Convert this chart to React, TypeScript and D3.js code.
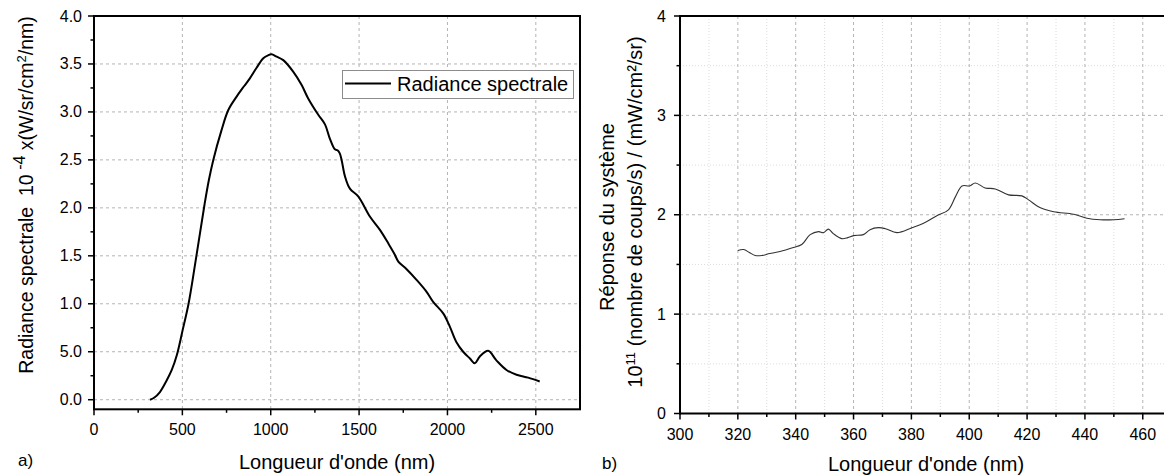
import React from "react";
import * as d3 from "d3";

// ---- Chart a) : spectral radiance ----
const leftWavelengths = [317, 340, 373, 411, 440, 468, 501, 535, 571, 600, 625, 650, 675, 720, 760, 807, 850, 882, 920, 958, 985, 1005, 1030, 1071, 1127, 1175, 1212, 1269, 1307, 1335, 1363, 1378, 1390, 1401, 1420, 1448, 1495, 1561, 1618, 1665, 1700, 1722, 1769, 1825, 1882, 1919, 1976, 2014, 2051, 2089, 2127, 2155, 2183, 2230, 2277, 2334, 2391, 2457, 2522];
const leftRadiance = [0.0, 0.02, 0.08, 0.2, 0.31, 0.46, 0.72, 1.0, 1.4, 1.74, 2.03, 2.29, 2.5, 2.8, 3.02, 3.16, 3.27, 3.35, 3.46, 3.56, 3.59, 3.6, 3.58, 3.54, 3.42, 3.28, 3.14, 2.97, 2.87, 2.72, 2.61, 2.6, 2.57, 2.5, 2.33, 2.2, 2.12, 1.91, 1.77, 1.63, 1.52, 1.44, 1.36, 1.25, 1.125, 1.02, 0.9, 0.76, 0.6, 0.5, 0.43, 0.38, 0.45, 0.51, 0.41, 0.31, 0.26, 0.23, 0.19];
const leftXTicks = [0, 500, 1000, 1500, 2000, 2500];
const leftXMinor = [250, 750, 1250, 1750, 2250];
const leftYTicks = [0, 0.5, 1.0, 1.5, 2.0, 2.5, 3.0, 3.5, 4.0];
const leftYTickLabels = ["0.0", "5.0", "1.0", "1.5", "2.0", "2.5", "3.0", "3.5", "4.0"];
const leftYMinor = [0.25, 0.75, 1.25, 1.75, 2.25, 2.75, 3.25, 3.75];

// ---- Chart b) : system response ----
const rightWavelengths = [320, 322, 324, 326, 328.3, 331, 334.6, 339.2, 342.1, 345, 347.9, 349.6, 351.3, 353, 355.9, 358, 360, 363.4, 365.7, 368.6, 371, 375, 380.2, 384.2, 388.8, 392.8, 395.2, 397.5, 400.1, 402.1, 405.5, 409, 413.6, 418.2, 420.5, 424.6, 429.2, 436.1, 440.7, 445.3, 449.9, 453.7];
const rightResponse = [1.64, 1.65, 1.62, 1.59, 1.59, 1.61, 1.63, 1.67, 1.7, 1.8, 1.83, 1.82, 1.855, 1.81, 1.76, 1.77, 1.79, 1.8, 1.85, 1.87, 1.86, 1.82, 1.87, 1.915, 1.99, 2.05, 2.18, 2.29, 2.29, 2.32, 2.27, 2.26, 2.2, 2.19, 2.15, 2.07, 2.03, 2.005, 1.965, 1.95, 1.95, 1.96];
const rightXTicks = [300, 320, 340, 360, 380, 400, 420, 440, 460];
const rightXMinor = [310, 330, 350, 370, 390, 410, 430, 450];
const rightYTicks = [0, 1, 2, 3, 4];
const rightYMinor = [0.5, 1.5, 2.5, 3.5];

const FONT = "'Liberation Sans', Arial, sans-serif";

export default function App() {
  const xL = d3.scaleLinear().domain([0, 2750]).range([94, 580]);
  const yL = d3.scaleLinear().domain([-0.1, 4.0]).range([409.3, 16]);
  const xR = d3.scaleLinear().domain([300, 470]).range([680, 1171.7]);
  const yR = d3.scaleLinear().domain([0, 4]).range([413.5, 16]);

  const leftLine = d3
    .line<number>()
    .x((d, i) => xL(leftWavelengths[i]))
    .y((d) => yL(d))
    .curve(d3.curveCatmullRom.alpha(0.5))(leftRadiance) as string;

  const rightLine = d3
    .line<number>()
    .x((d, i) => xR(rightWavelengths[i]))
    .y((d) => yR(d))
    .curve(d3.curveCatmullRom.alpha(0.5))(rightResponse) as string;

  const L = { x0: xL.range()[0], x1: xL.range()[1], y0: yL.range()[0], y1: yL.range()[1] };
  const R = { x0: 680, x1: 1164, y0: yR.range()[0], y1: yR.range()[1] };

  return (
    <svg
      width={1164}
      height={475}
      style={{ position: "absolute", left: 0, top: 0, background: "#fff" }}
      fontFamily={FONT}
    >
      <rect x={0} y={0} width={1164} height={475} fill="#fff" />

      {/* ===== Left chart ===== */}
      <g>
        {leftXTicks.filter((t) => t > 0).map((t) => (
          <line key={"lgx" + t} x1={xL(t)} x2={xL(t)} y1={L.y1} y2={L.y0} stroke="#b4b4b4" strokeWidth={1} strokeDasharray="3,3" />
        ))}
        {leftYTicks.filter((t) => t < 4).map((t) => (
          <line key={"lgy" + t} x1={L.x0} x2={L.x1} y1={yL(t)} y2={yL(t)} stroke="#b4b4b4" strokeWidth={1} strokeDasharray="3,3" />
        ))}
        <path d={leftLine} fill="none" stroke="#000" strokeWidth={2} strokeLinejoin="round" />
        <rect x={L.x0} y={L.y1} width={L.x1 - L.x0} height={L.y0 - L.y1} fill="none" stroke="#000" strokeWidth={2} />
        {leftXTicks.map((t) => (
          <line key={"ltx" + t} x1={xL(t)} x2={xL(t)} y1={L.y0} y2={L.y0 + 6} stroke="#000" strokeWidth={1.5} />
        ))}
        {leftXMinor.map((t) => (
          <line key={"lmx" + t} x1={xL(t)} x2={xL(t)} y1={L.y0} y2={L.y0 + 3.5} stroke="#000" strokeWidth={1.5} />
        ))}
        {leftXTicks.map((t) => (
          <text key={"llx" + t} x={xL(t)} y={435} textAnchor="middle" fontSize={16} fill="#000">
            {t}
          </text>
        ))}
        {leftYTicks.map((t) => (
          <line key={"lty" + t} x1={L.x0 - 6} x2={L.x0} y1={yL(t)} y2={yL(t)} stroke="#000" strokeWidth={1.5} />
        ))}
        {leftYMinor.map((t) => (
          <line key={"lmy" + t} x1={L.x0 - 3.5} x2={L.x0} y1={yL(t)} y2={yL(t)} stroke="#000" strokeWidth={1.5} />
        ))}
        {leftYTicks.map((t, i) => (
          <text key={"lly" + t} x={82} y={yL(t) + 5.5} textAnchor="end" fontSize={16} fill="#000">
            {leftYTickLabels[i]}
          </text>
        ))}
        {/* legend */}
        <rect x={342.5} y={70.5} width={231} height={28} fill="#fff" stroke="#8c8c8c" strokeWidth={1} />
        <line x1={345} x2={391} y1={83.5} y2={83.5} stroke="#000" strokeWidth={2} />
        <text x={397} y={91} fontSize={20} fill="#000">Radiance spectrale</text>
        {/* titles */}
        <text x={337} y={469} textAnchor="middle" fontSize={20} fill="#000">Longueur d'onde (nm)</text>
        <text
          transform="translate(33,195) rotate(-90)"
          textAnchor="middle"
          fontSize={19.5}
          fill="#000"
          style={{ whiteSpace: "pre" }}
        >
          {"Radiance spectrale  10"}
          <tspan dy={-8} fontSize={16}>{" -4"}</tspan>
          <tspan dy={8}>{" x(W/sr/cm"}</tspan>
          <tspan dy={-7} fontSize={13}>2</tspan>
          <tspan dy={7}>/nm)</tspan>
        </text>
        <text x={18} y={466} fontSize={17} fill="#000">a)</text>
      </g>

      {/* ===== Right chart ===== */}
      <g>
        {rightXMinor.map((t) => (
          <line key={"rmgx" + t} x1={xR(t)} x2={xR(t)} y1={R.y1} y2={R.y0} stroke="#dcdcdc" strokeWidth={1} strokeDasharray="1,2" />
        ))}
        {rightYMinor.map((t) => (
          <line key={"rmgy" + t} x1={R.x0} x2={R.x1} y1={yR(t)} y2={yR(t)} stroke="#dcdcdc" strokeWidth={1} strokeDasharray="1,2" />
        ))}
        {rightXTicks.filter((t) => t > 300).map((t) => (
          <line key={"rgx" + t} x1={xR(t)} x2={xR(t)} y1={R.y1} y2={R.y0} stroke="#b4b4b4" strokeWidth={1} strokeDasharray="3,3" />
        ))}
        {rightYTicks.filter((t) => t > 0 && t < 4).map((t) => (
          <line key={"rgy" + t} x1={R.x0} x2={R.x1} y1={yR(t)} y2={yR(t)} stroke="#b4b4b4" strokeWidth={1} strokeDasharray="3,3" />
        ))}
        <path d={rightLine} fill="none" stroke="#333" strokeWidth={1.1} strokeLinejoin="round" />
        <line x1={R.x0} x2={R.x1} y1={R.y1} y2={R.y1} stroke="#000" strokeWidth={2} />
        <line x1={R.x0} x2={R.x1} y1={R.y0} y2={R.y0} stroke="#000" strokeWidth={2} />
        <line x1={R.x0} x2={R.x0} y1={R.y1 - 1} y2={R.y0 + 1} stroke="#000" strokeWidth={2} />
        {rightXTicks.map((t) => (
          <line key={"rtx" + t} x1={xR(t)} x2={xR(t)} y1={R.y0} y2={R.y0 + 6} stroke="#000" strokeWidth={1.5} />
        ))}
        {rightXMinor.map((t) => (
          <line key={"rmx" + t} x1={xR(t)} x2={xR(t)} y1={R.y0} y2={R.y0 + 3.5} stroke="#000" strokeWidth={1.5} />
        ))}
        {rightXTicks.map((t) => (
          <text key={"rlx" + t} x={xR(t)} y={440} textAnchor="middle" fontSize={16} fill="#000">
            {t}
          </text>
        ))}
        {rightYTicks.map((t) => (
          <line key={"rty" + t} x1={R.x0 - 6} x2={R.x0} y1={yR(t)} y2={yR(t)} stroke="#000" strokeWidth={1.5} />
        ))}
        {rightYMinor.map((t) => (
          <line key={"rmy" + t} x1={R.x0 - 3.5} x2={R.x0} y1={yR(t)} y2={yR(t)} stroke="#000" strokeWidth={1.5} />
        ))}
        {rightYTicks.map((t) => (
          <text key={"rly" + t} x={666} y={yR(t) + 5.5} textAnchor="end" fontSize={16} fill="#000">
            {t}
          </text>
        ))}
        <text x={926} y={471} textAnchor="middle" fontSize={20} fill="#000">Longueur d'onde (nm)</text>
        <text transform="translate(614,217) rotate(-90)" textAnchor="middle" fontSize={20} fill="#000">
          Réponse du système
        </text>
        <text transform="translate(642,212) rotate(-90)" textAnchor="middle" fontSize={20} fill="#000">
          10
          <tspan dy={-7} fontSize={13}>11</tspan>
          <tspan dy={7}> (nombre de coups/s) / (mW/cm²/sr)</tspan>
        </text>
        <text x={602} y={469} fontSize={17} fill="#000">b)</text>
      </g>
    </svg>
  );
}
